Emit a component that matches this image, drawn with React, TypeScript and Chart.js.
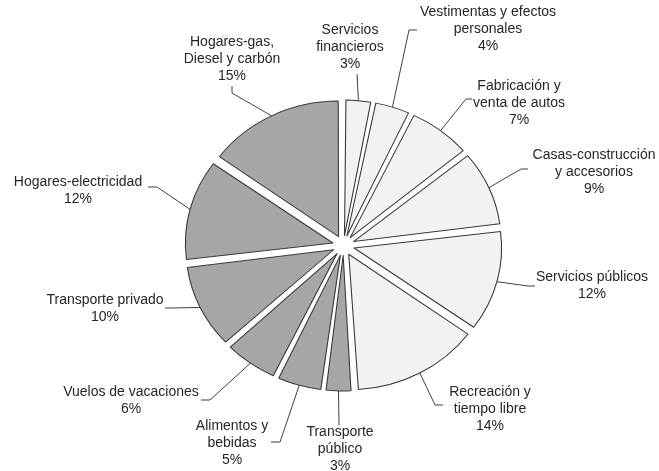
import React, { useEffect, useRef } from "react";
import { Chart, registerables } from "chart.js";

Chart.register(...registerables);

// ---- data ----
const categories: string[] = [
  "Servicios\nfinancieros",
  "Vestimentas y efectos\npersonales",
  "Fabricación y\nventa de autos",
  "Casas-construcción\ny accesorios",
  "Servicios públicos",
  "Recreación y\ntiempo libre",
  "Transporte\npúblico",
  "Alimentos y\nbebidas",
  "Vuelos de vacaciones",
  "Transporte privado",
  "Hogares-electricidad",
  "Hogares-gas,\nDiesel y carbón",
];
const values: number[] = [3, 4, 7, 9, 12, 14, 3, 5, 6, 10, 12, 15];

// ---- style / layout (not data) ----
const LIGHT = "#f2f2f2";
const DARK = "#a6a6a6";
const sliceColors: string[] = [LIGHT, LIGHT, LIGHT, LIGHT, LIGHT, LIGHT, DARK, DARK, DARK, DARK, DARK, DARK];
const W = 659;
const H = 471;
const RADIUS = 135.5;
const EXPLODE = 10; // px translation of each slice
const STRETCH_X = 1.089;
const FONT = "14px 'Liberation Sans', Arial, sans-serif";
const LINE_H = 17;

// label text anchors (center x, first-line y) and leader line bend points
const labelAnchors: [number, number][] = [
  [350, 30], [488, 12], [519, 86], [594, 155], [592, 277], [490, 392],
  [340, 432], [232, 426], [131, 392], [105, 300], [78, 182], [232, 42],
];
const leaderPoints: [number, number][][] = [
  [[357, 74]],
  [[409, 30], [417, 30]],
  [[466, 99], [472, 99]],
  [[521, 169], [528, 169]],
  [[528, 286], [535, 286]],
  [[435, 405], [443, 405]],
  [[339, 425]],
  [[280, 442], [271, 442]],
  [[210, 400], [201, 400]],
  [[172, 308], [165, 308]],
  [[157, 187], [148, 187]],
  [[232, 93], [232, 86]],
];

const radiusFixPlugin = {
  id: "radiusFix",
  afterDatasetUpdate(chart: any, args: any) {
    const meta = args.meta;
    meta.data.forEach((arc: any) => {
      const fix = 1 - Math.sin(Math.min(Math.PI, arc.circumference || 0));
      arc.outerRadius = RADIUS - EXPLODE * fix;
    });
  },
};

const stretchPlugin = {
  id: "stretch",
  beforeDatasetsDraw(chart: any) {
    const ctx = chart.ctx;
    const a = chart.getDatasetMeta(0).data[0];
    const cx = a ? a.x : W / 2;
    ctx.save();
    ctx.translate(cx, 0);
    ctx.scale(STRETCH_X, 1);
    ctx.translate(-cx, 0);
  },
  afterDatasetsDraw(chart: any) {
    chart.ctx.restore();
  },
};

const labelPlugin = {
  id: "pieLabels",
  afterDatasetsDraw(chart: any) {
    const ctx = chart.ctx;
    const meta = chart.getDatasetMeta(0);
    ctx.save();
    ctx.strokeStyle = "#404040";
    ctx.lineWidth = 1;
    ctx.fillStyle = "#262626";
    ctx.font = FONT;
    ctx.textAlign = "center";
    ctx.textBaseline = "middle";
    meta.data.forEach((arc: any, i: number) => {
      const mid = (arc.startAngle + arc.endAngle) / 2;
      const r = RADIUS + EXPLODE;
      const sx = arc.x + Math.cos(mid) * r * STRETCH_X;
      const sy = arc.y + Math.sin(mid) * r;
      ctx.beginPath();
      ctx.moveTo(sx, sy);
      leaderPoints[i].forEach(([px, py]) => ctx.lineTo(px, py));
      ctx.stroke();
      const lines = categories[i].split("\n").concat([`${values[i]}%`]);
      const [ax, ay] = labelAnchors[i];
      lines.forEach((t, k) => ctx.fillText(t, ax, ay + k * LINE_H));
    });
    ctx.restore();
  },
};

export default function App() {
  const ref = useRef<HTMLCanvasElement | null>(null);
  useEffect(() => {
    if (!ref.current) return;
    const chart = new Chart(ref.current, {
      type: "pie",
      data: {
        labels: categories.map((c) => c.replace(/\n/g, " ")),
        datasets: [
          {
            data: values,
            backgroundColor: sliceColors,
            borderColor: "#3a3a3a",
            borderWidth: 1,
            offset: EXPLODE * 4,
            radius: RADIUS,
            borderJoinStyle: "round",
          } as any,
        ],
      },
      options: {
        responsive: false,
        animation: false,
        devicePixelRatio: 1,
        layout: { padding: { left: 28, right: 0, top: 20, bottom: 0 } },
        plugins: {
          legend: { display: false },
          tooltip: { enabled: false },
        },
      },
      plugins: [radiusFixPlugin, stretchPlugin, labelPlugin],
    });
    return () => chart.destroy();
  }, []);
  return (
    <div style={{ position: "fixed", left: 0, top: 0, width: W, height: H, background: "#fff" }}>
      <canvas ref={ref} width={W} height={H} style={{ display: "block", width: W, height: H }} />
    </div>
  );
}
